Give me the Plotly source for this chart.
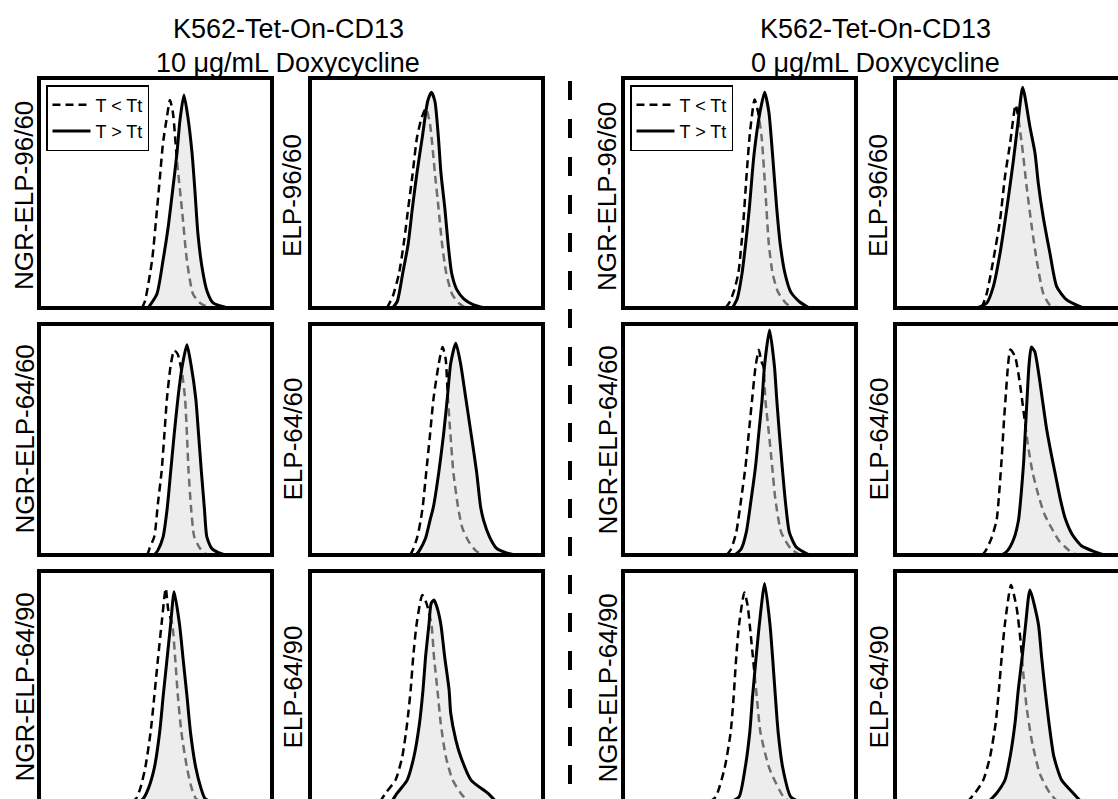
import plotly.graph_objects as go

# ---------------- data (x: relative fluorescence 0-100 across panel, y: % of max) ----------------
titles_left = ["K562-Tet-On-CD13", "10 μg/mL Doxycycline"]
titles_right = ["K562-Tet-On-CD13", "0 μg/mL Doxycycline"]
legend_names = ["T < Tt", "T > Tt"]
panel_labels = [
    ["NGR-ELP-96/60", "ELP-96/60", "NGR-ELP-96/60", "ELP-96/60"],
    ["NGR-ELP-64/60", "ELP-64/60", "NGR-ELP-64/60", "ELP-64/60"],
    ["NGR-ELP-64/90", "ELP-64/90", "NGR-ELP-64/90", "ELP-64/90"],
]

# row 1
r1c1_below_x = [44.2, 45.5, 48.5, 50.6, 51.9, 53.2, 54.9, 56.2, 57.5, 59.2, 61.4, 63.5, 66.1, 69.1, 73.4]
r1c1_below_y = [0, 3.1, 20.5, 42.4, 56.8, 71.6, 83.0, 90.4, 84.7, 64.2, 42.4, 20.5, 6.1, 2.2, 0]
r1c1_above_x = [46.8, 50.6, 53.2, 55.4, 57.5, 59.2, 60.5, 62.2, 63.9, 65.7, 67.0, 68.2, 70.0, 72.1, 74.7, 81.1]
r1c1_above_y = [0, 6.1, 20.5, 34.9, 52.4, 67.2, 81.7, 92.6, 83.0, 67.2, 49.8, 32.3, 17.5, 7.4, 2.2, 0]

r1c2_below_x = [33.0, 35.5, 38.2, 40.5, 42.1, 44.0, 45.9, 48.0, 49.8, 51.5, 53.6, 55.2, 56.7, 58.5, 61.0, 64.0, 67.0]
r1c2_below_y = [0, 5, 15, 30, 43, 58, 74, 83, 86.8, 80, 58.7, 43, 27.6, 15, 6, 2, 0]
r1c2_above_x = [35.5, 37.5, 39.8, 42.1, 43.9, 45.9, 48.2, 50.5, 52.1, 53.6, 55.1, 56.2, 57.9, 59.3, 60.8, 63.0, 66.0, 70.0, 75.0]
r1c2_above_y = [0, 3, 15.1, 27.6, 43.1, 58.7, 74.3, 89.9, 93.8, 89.9, 74.3, 58.7, 43.1, 27.6, 15.1, 8, 4, 1.5, 0]

r1c3_below_x = [44.0, 46.0, 47.8, 49.5, 51.5, 53.1, 54.6, 56.5, 58.0, 59.5, 61.1, 62.6, 64.2, 66.5, 70.0, 73.0]
r1c3_below_y = [0, 3, 8, 15.1, 35.4, 58.7, 77.4, 90.7, 85, 74.3, 50.9, 27.6, 15.1, 7, 2, 0]
r1c3_above_x = [47.0, 49.0, 51.1, 52.6, 54.2, 56.2, 58.8, 60.8, 62.6, 64.2, 66.0, 67.5, 69.5, 72.0, 76.0, 80.0]
r1c3_above_y = [0, 4, 15.1, 27.6, 43.1, 66.5, 85.2, 93.8, 85.2, 66.5, 43.1, 27.6, 15.1, 7, 2.5, 0]

r1c4_below_x = [37.2, 39.4, 42.2, 45.1, 47.2, 49.4, 51.8, 54.4, 56.5, 58.7, 60.8, 63.6, 66.5, 72.0]
r1c4_below_y = [0, 6.4, 20.9, 38.3, 57.1, 71.6, 88.3, 71.6, 52.7, 35.3, 20.9, 6.4, 1.3, 0]
r1c4_above_x = [35.1, 39.4, 42.2, 45.1, 47.9, 50.8, 52.9, 54.8, 57.9, 60.1, 61.5, 63.6, 66.5, 69.4, 73.7, 80.8]
r1c4_above_y = [0, 2.2, 9.3, 23.9, 42.6, 64, 81.7, 96, 78.8, 67.3, 54.2, 39.7, 23.8, 9.3, 3.5, 0]

# row 2
r2c1_below_x = [46.5, 47.5, 49.5, 51.0, 52.6, 53.8, 54.9, 56.5, 58.0, 59.5, 61.5, 62.7, 63.5, 64.2, 65.3, 66.6, 69.0, 72.0]
r2c1_below_y = [0, 3, 8, 22, 36, 52, 67.6, 82, 88.6, 87, 78, 67.6, 52, 36, 20, 8, 3, 0]
r2c1_above_x = [49.5, 51.0, 53.3, 55.0, 56.5, 58.0, 59.6, 61.5, 63.5, 65.3, 67.3, 68.5, 69.7, 71.0, 72.0, 74.0, 77.0, 80.0]
r2c1_above_y = [0, 2, 8, 20, 36, 52, 67.6, 82, 91, 82, 67.6, 52, 36, 20, 8, 3, 1, 0]

r2c2_below_x = [43.0, 44.5, 46.1, 47.5, 48.4, 49.9, 51.5, 53.0, 55.3, 56.9, 58.2, 59.2, 60.3, 61.5, 63.5, 65.3, 68.0, 71.0, 74.0]
r2c2_below_y = [0, 3, 8, 15, 21, 36, 52, 67.6, 83, 90, 85, 67.6, 52, 36, 21, 12, 6, 2, 0]
r2c2_above_x = [45.5, 47.0, 49.5, 51.5, 53.0, 55.3, 57.3, 58.9, 60.4, 62.6, 64.6, 66.9, 69.2, 71.5, 73.2, 74.5, 77.0, 80.0, 84.0, 88.0]
r2c2_above_y = [0, 2, 7, 15, 21, 36, 52, 67.6, 83, 91.7, 83, 67.6, 52, 36, 21, 15, 8, 3, 1, 0]

r2c3_below_x = [44.5, 46.4, 48.6, 50.7, 52.6, 54.0, 55.4, 56.9, 58.3, 59.3, 60.3, 61.1, 62.6, 64.0, 65.4, 67.9, 72.1, 76.0]
r2c3_below_y = [0, 2.6, 9.8, 24.1, 38.5, 52.9, 67.2, 81.6, 88.8, 84, 81.6, 67.2, 52.9, 38.5, 24.1, 9.8, 2.6, 0]
r2c3_above_x = [48.0, 50.7, 52.9, 55.0, 56.9, 58.3, 59.7, 60.7, 62.9, 65.0, 66.0, 67.1, 68.3, 69.6, 71.4, 74.3, 80.0]
r2c3_above_y = [0, 2.6, 9.8, 24.1, 38.5, 52.9, 67.2, 81.6, 97.4, 81.6, 67.2, 52.9, 38.5, 24.1, 9.8, 3.5, 0]

r2c4_below_x = [37.5, 39.0, 41.3, 43.6, 44.8, 45.8, 46.7, 47.6, 48.5, 49.5, 51.5, 53.5, 55.2, 57.0, 59.0, 61.5, 64.0, 67.0, 70.5, 74.7, 78.0]
r2c4_below_y = [0, 2, 7, 15, 28, 42, 57, 70, 82, 89, 86, 75, 62, 48, 36, 26, 18, 12, 6, 2, 0]
r2c4_above_x = [46.0, 48.4, 51.0, 53.0, 54.2, 55.2, 56.0, 56.8, 57.5, 58.5, 60.0, 61.6, 63.3, 65.0, 67.0, 69.0, 71.0, 73.0, 76.0, 80.0, 85.5, 90.0]
r2c4_above_y = [0, 2, 7, 15, 27, 40, 55, 70, 82, 90, 88, 79, 67, 55, 44, 34, 24, 16, 9, 4, 1.5, 0]

# row 3
r3c1_below_x = [39.5, 41.7, 43.5, 45.6, 47.9, 49.5, 51.0, 52.6, 54.4, 55.5, 57.2, 58.5, 59.6, 61.1, 63.5, 65.5, 67.3, 70.0]
r3c1_below_y = [0, 1.5, 6, 14.8, 30.3, 45.9, 61.4, 77, 92.5, 83, 77, 61.4, 45.9, 30.3, 14.8, 6, 1.5, 0]
r3c1_above_x = [43.0, 44.8, 47.0, 49.5, 51.8, 53.3, 54.9, 56.5, 58.0, 60.3, 61.9, 63.5, 65.0, 67.3, 69.5, 71.2, 74.0]
r3c1_above_y = [0, 1.5, 6, 14.8, 30.3, 45.9, 61.4, 77, 91, 77, 61.4, 45.9, 30.3, 14.8, 6, 1.5, 0]

r3c2_below_x = [30.0, 32.4, 36.7, 39.6, 41.7, 43.2, 44.3, 45.8, 48.2, 50.0, 52.1, 53.2, 54.7, 56.1, 58.3, 61.2, 64.7, 68.0]
r3c2_below_y = [0, 3.8, 9.5, 19.6, 34.1, 48.5, 62.9, 77.3, 89.6, 86, 77.3, 62.9, 48.5, 34.1, 19.6, 9.5, 3.8, 0]
r3c2_above_x = [35.0, 37.4, 41.7, 44.6, 47.0, 48.5, 49.6, 51.1, 52.0, 53.2, 54.3, 56.1, 57.8, 59.7, 60.4, 62.6, 64.7, 69.1, 76.3, 80.0]
r3c2_above_y = [0, 3.8, 9.5, 19.6, 34.1, 48.5, 62.9, 77.3, 86, 87.4, 85, 77.3, 62.9, 48.5, 38.4, 26.8, 19.6, 9.5, 3.8, 0]

r3c3_below_x = [37.0, 39.8, 43.6, 46.2, 47.5, 48.5, 49.8, 52.1, 53.5, 54.4, 55.9, 57.4, 59.0, 62.8, 68.9, 72.0]
r3c3_below_y = [0, 2.2, 14.6, 30.1, 45.7, 61.2, 76.7, 90.7, 85, 76.7, 61.2, 45.7, 30.1, 14.6, 2.2, 0]
r3c3_above_x = [46.0, 49.8, 52.4, 54.4, 55.6, 57.0, 58.5, 60.8, 63.1, 64.3, 65.4, 66.6, 68.6, 72.0, 76.0]
r3c3_above_y = [0, 2.2, 14.6, 30.1, 45.7, 61.2, 76.7, 94.6, 76.7, 61.2, 45.7, 30.1, 14.6, 2.2, 0]

r3c4_below_x = [31.0, 34.3, 37.9, 40.8, 43.2, 44.6, 45.8, 47.2, 49.8, 52.2, 53.9, 55.1, 56.5, 58.7, 62.2, 66.5, 70.0]
r3c4_below_y = [0, 3.8, 9.5, 19.6, 34.1, 48.5, 62.9, 77.3, 93.9, 84.1, 69.7, 55.3, 40.9, 26.6, 12.1, 3.8, 0]
r3c4_above_x = [40.0, 43.6, 47.2, 49.4, 51.5, 52.9, 54.6, 56.1, 57.9, 61.5, 62.9, 64.4, 66.1, 68.2, 71.5, 76.5, 80.0]
r3c4_above_y = [0, 3.8, 9.5, 19.6, 34.1, 48.5, 62.9, 77.3, 91.8, 77.3, 62.9, 48.5, 34.1, 19.6, 9.5, 3.8, 0]

curves = [
    [(r1c1_below_x, r1c1_below_y, r1c1_above_x, r1c1_above_y),
     (r1c2_below_x, r1c2_below_y, r1c2_above_x, r1c2_above_y),
     (r1c3_below_x, r1c3_below_y, r1c3_above_x, r1c3_above_y),
     (r1c4_below_x, r1c4_below_y, r1c4_above_x, r1c4_above_y)],
    [(r2c1_below_x, r2c1_below_y, r2c1_above_x, r2c1_above_y),
     (r2c2_below_x, r2c2_below_y, r2c2_above_x, r2c2_above_y),
     (r2c3_below_x, r2c3_below_y, r2c3_above_x, r2c3_above_y),
     (r2c4_below_x, r2c4_below_y, r2c4_above_x, r2c4_above_y)],
    [(r3c1_below_x, r3c1_below_y, r3c1_above_x, r3c1_above_y),
     (r3c2_below_x, r3c2_below_y, r3c2_above_x, r3c2_above_y),
     (r3c3_below_x, r3c3_below_y, r3c3_above_x, r3c3_above_y),
     (r3c4_below_x, r3c4_below_y, r3c4_above_x, r3c4_above_y)],
]

# ---------------- layout geometry (pixels) ----------------
W, H = 1118, 799
col_px = [(39, 272), (310, 543), (623, 856), (895, 1128)]
row_px = [(78, 308), (324, 555), (571, 802)]
label_x = [24, 292, 607, 878]
label_dy = [3, 0, 1]
FONT = "Arial, Liberation Sans, sans-serif"


def px(xp):
    return xp / W


def py(yp):
    return 1 - yp / H


fig = go.Figure()
layout_axes = {}
shapes = []
annotations = []

for r in range(3):
    for c in range(4):
        k = r * 4 + c + 1
        xa = "x" if k == 1 else f"x{k}"
        ya = "y" if k == 1 else f"y{k}"
        L, R = col_px[c]
        T, B = row_px[r]
        vis_R = min(R, W)
        vis_B = min(B, H)
        xr = [0, 100 * (vis_R - L) / (R - L)]
        yr = [100 * (B - vis_B) / (B - T), 100]
        layout_axes["xaxis" if k == 1 else f"xaxis{k}"] = dict(
            domain=[px(L), px(vis_R)], range=xr, visible=False, anchor=ya, fixedrange=True)
        layout_axes["yaxis" if k == 1 else f"yaxis{k}"] = dict(
            domain=[py(vis_B), py(T)], range=yr, visible=False, anchor=xa, fixedrange=True)

        bx, by, ax_, ay_ = curves[r][c]
        legend_id = None
        if r == 0 and c == 0:
            legend_id = "legend"
        elif r == 0 and c == 2:
            legend_id = "legend2"
        show = legend_id is not None

        fig.add_trace(go.Scatter(
            x=bx, y=by, xaxis=xa, yaxis=ya, mode="lines",
            line=dict(color="black", width=2.5, dash="8px,5px", shape="spline", smoothing=0.6),
            name=legend_names[0], showlegend=show, legend=legend_id or "legend",
            hoverinfo="skip"))
        fig.add_trace(go.Scatter(
            x=ax_, y=ay_, xaxis=xa, yaxis=ya, mode="lines",
            line=dict(color="rgba(0,0,0,0)", width=0, shape="spline", smoothing=0.6),
            fill="tozeroy", fillcolor="rgba(220,220,220,0.5)",
            showlegend=False, hoverinfo="skip"))
        fig.add_trace(go.Scatter(
            x=ax_, y=ay_, xaxis=xa, yaxis=ya, mode="lines",
            line=dict(color="black", width=3, shape="spline", smoothing=0.6),
            name=legend_names[1], showlegend=show, legend=legend_id or "legend",
            hoverinfo="skip"))

        # panel frame
        shapes.append(dict(type="rect", xref="paper", yref="paper",
                           x0=px(L), x1=px(R), y0=py(B), y1=py(T),
                           line=dict(color="black", width=4), layer="above"))
        # panel label
        annotations.append(dict(
            text=panel_labels[r][c], xref="paper", yref="paper",
            x=px(label_x[c]), y=py((T + B) / 2 + label_dy[r]),
            xanchor="center", yanchor="middle", textangle=-90, showarrow=False,
            font=dict(family=FONT, size=26, color="black")))

# dashed separator
shapes.append(dict(type="line", xref="paper", yref="paper",
                   x0=px(570), x1=px(570), y0=py(81), y1=py(805),
                   line=dict(color="black", width=4, dash="19px,19px")))

# titles
for cx, lines in [(288, titles_left), (875, titles_right)]:
    for i, (txt, yc) in enumerate(zip(lines, [29, 63])):
        annotations.append(dict(
            text=txt, xref="paper", yref="paper", x=px(cx), y=py(yc),
            xanchor="center", yanchor="middle", showarrow=False,
            font=dict(family=FONT, size=27, color="black")))

legend_style = dict(xanchor="left", yanchor="top", bgcolor="white",
                    bordercolor="black", borderwidth=1.5,
                    font=dict(family=FONT, size=18, color="black"),
                    tracegroupgap=0, itemwidth=38)

fig.update_layout(
    width=W, height=H,
    margin=dict(l=0, r=0, t=0, b=0),
    paper_bgcolor="white", plot_bgcolor="rgba(0,0,0,0)",
    shapes=shapes, annotations=annotations,
    legend=dict(x=px(46), y=py(85), **legend_style),
    legend2=dict(x=px(630), y=py(85), **legend_style),
    **layout_axes,
)

fig.write_html("out.html")
